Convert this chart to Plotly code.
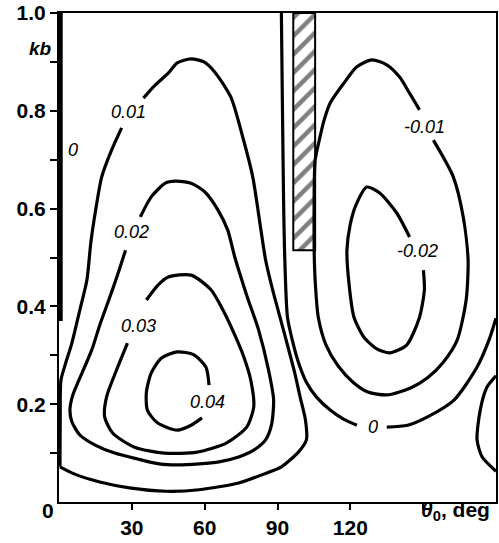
import plotly.graph_objects as go

# ---- contour lines (theta in deg, kb) ----
c001_theta = [0.4, 6.5, 16.8, 29.0, 44.2, 57.7, 74.0, 84.3, 91.6, 98.6, 101.9, 101.5, 99.4, 97.0, 94.1,
              90.8, 88.0, 85.1, 83.0, 79.8, 75.7, 70.8, 64.2, 59.7, 54.4, 48.7, 45.0, 39.3, 34.8, None,
              25.8, 21.7, 17.6, 15.1, 13.1, 11.5, 8.6, 5.3, 2.5, 0.8, 0.5, 0.4]
c001_kb = [0.072, 0.057, 0.041, 0.029, 0.022, 0.025, 0.039, 0.057, 0.072, 0.102, 0.127, 0.168, 0.213, 0.266, 0.321,
           0.382, 0.434, 0.495, 0.562, 0.665, 0.746, 0.828, 0.879, 0.900, 0.906, 0.898, 0.877, 0.851, 0.826, None,
           0.765, 0.720, 0.665, 0.597, 0.530, 0.454, 0.393, 0.325, 0.280, 0.249, 0.168, 0.072]

c002_theta = [33.5, 38.0, 43.8, 47.9, 54.4, 60.1, 65.5, 69.5, 72.4, 77.3, 82.2, 86.3, 88.4, 87.5, 85.1, 80.2,
              74.0, 65.9, 57.7, 48.7, 41.3, 32.3, 22.9, 14.7, 8.6, 5.3, 4.5, 5.7, 8.2, 13.5, 16.8, 20.5, 24.1, 27.4]
c002_kb = [0.583, 0.624, 0.652, 0.656, 0.652, 0.634, 0.597, 0.556, 0.501, 0.423, 0.352, 0.270, 0.209, 0.157, 0.127, 0.106,
           0.092, 0.082, 0.078, 0.076, 0.078, 0.088, 0.100, 0.117, 0.137, 0.164, 0.188, 0.219, 0.249, 0.311, 0.362, 0.413, 0.464, 0.515]

c003_theta = [36.0, 40.5, 45.0, 54.4, 62.6, 67.9, 72.8, 76.1, 79.0, 80.2, 77.3, 69.1, 56.9, 43.4, 31.1, 22.1,
              18.8, 19.6, 23.7, 28.2]
c003_kb = [0.413, 0.442, 0.460, 0.464, 0.434, 0.389, 0.337, 0.297, 0.249, 0.194, 0.153, 0.121, 0.102, 0.100, 0.112, 0.141,
           0.174, 0.215, 0.270, 0.325]

c004_theta = [61.8, 60.5, 55.6, 48.7, 42.1, 38.0, 36.0, 36.4, 40.5, 48.7, 54.4, 58.9]
c004_kb = [0.239, 0.276, 0.301, 0.307, 0.294, 0.264, 0.225, 0.188, 0.162, 0.147, 0.157, 0.172]

c0_mid_theta = [91.6, 92.0, 92.5, 92.9, 94.1, 96.1, 98.6, 101.9, 106.0, 111.7, 117.0, 122.7, None,
                135.0, 143.6, 151.8, 162.8, 172.2, 177.1, 180.0]
c0_mid_kb = [1.0, 0.822, 0.618, 0.515, 0.378, 0.331, 0.286, 0.245, 0.215, 0.188, 0.170, 0.157, None,
             0.153, 0.157, 0.174, 0.209, 0.276, 0.331, 0.376]

c0_left_theta = [0.5, 0.5]
c0_left_kb = [1.0, 0.37]

cm001_theta = [154.2, 162.4, 166.5, 168.5, 167.7, 164.0, 158.3, 151.8, 144.8, 135.0, 127.2, 121.1, 115.0, 110.0,
               106.8, 105.5, 105.1, 105.1, 105.5, 107.2, 109.2, 111.7, 117.4, 122.7, 128.9, 135.0, 140.3, 144.4, 148.5]
cm001_kb = [0.740, 0.665, 0.583, 0.495, 0.413, 0.331, 0.286, 0.254, 0.233, 0.219, 0.225, 0.245, 0.278, 0.321,
            0.378, 0.454, 0.515, 0.632, 0.699, 0.740, 0.781, 0.816, 0.857, 0.890, 0.904, 0.894, 0.869, 0.836, 0.802]

cm002_theta = [150.1, 150.5, 148.5, 143.2, 136.2, 130.9, 125.6, 121.5, 119.5, 118.6, 119.9, 122.3, 126.8, 132.1,
               139.1, 144.4]
cm002_kb = [0.474, 0.434, 0.378, 0.321, 0.305, 0.313, 0.337, 0.378, 0.444, 0.515, 0.566, 0.607, 0.644, 0.632,
            0.591, 0.542]

c_right_theta = [180.0, 176.3, 173.5, 172.2, 174.3, 180.0]
c_right_kb = [0.258, 0.235, 0.188, 0.127, 0.092, 0.063]

# hatched region
rect_theta = [96.5, 105.5, 105.5, 96.5, 96.5]
rect_kb = [1.0, 1.0, 0.515, 0.515, 1.0]

# contour labels
label_text = ["0.01", "0.02", "0.03", "0.04", "-0.01", "-0.02", "0", "0"]
label_theta = [28.6, 29.9, 32.7, 61.0, 150.5, 147.7, 129.3, 5.7]
label_kb = [0.798, 0.552, 0.360, 0.204, 0.767, 0.513, 0.153, 0.72]

x_tickvals = [30, 60, 90, 120]
x_ticktext = ["30", "60", "90", "120"]
x_minor_tickvals = [150]
y_tickvals = [0.2, 0.4, 0.6, 0.8, 1.0]
y_ticktext = ["0.2", "0.4", "0.6", "0.8", "1.0"]
y_minor_tickvals = [0.1, 0.3, 0.5, 0.7, 0.9]

fig = go.Figure()

fig.add_trace(go.Scatter(x=rect_theta, y=rect_kb, mode="lines", fill="toself",
                         fillcolor="white",
                         fillpattern=dict(shape="/", fgcolor="black", bgcolor="white", size=13, solidity=0.35),
                         line=dict(color="black", width=2), hoverinfo="skip"))

lines = [(c001_theta, c001_kb), (c002_theta, c002_kb), (c003_theta, c003_kb), (c004_theta, c004_kb),
         (c0_mid_theta, c0_mid_kb), (cm001_theta, cm001_kb), (cm002_theta, cm002_kb),
         (c_right_theta, c_right_kb)]
for xs, ys in lines:
    fig.add_trace(go.Scatter(x=xs, y=ys, mode="lines", connectgaps=False,
                             line=dict(color="black", width=3.2, shape="spline", smoothing=0.7),
                             hoverinfo="skip"))
fig.add_trace(go.Scatter(x=c0_left_theta, y=c0_left_kb, mode="lines",
                         line=dict(color="black", width=5), hoverinfo="skip"))

for t, x, y in zip(label_text, label_theta, label_kb):
    fig.add_annotation(x=x, y=y, text="<i>" + t + "</i>", showarrow=False,
                       font=dict(family="Liberation Sans", size=18, color="black"),
                       xanchor="center", yanchor="middle")

# axis-side texts (paper coordinates)
fig.add_annotation(xref="paper", yref="paper", x=-0.073, y=0.952, text="<b><i>kb</i></b>",
                   showarrow=False, font=dict(family="Liberation Sans", size=19, color="black"))
fig.add_annotation(xref="paper", yref="paper", x=-0.043, y=-0.045, text="<b>0</b>",
                   showarrow=False, font=dict(family="Liberation Sans", size=21, color="black"))
fig.add_annotation(xref="paper", yref="paper", x=0.823, y=-0.049,
                   text="<b><i>θ</i><sub>0</sub>, deg</b>", showarrow=False, xanchor="left",
                   font=dict(family="Liberation Sans", size=21, color="black"))

fig.update_xaxes(range=[0, 180], showgrid=False, zeroline=False, showline=True, linecolor="black",
                 linewidth=2, mirror=True, ticks="outside", ticklen=6, tickwidth=2, tickcolor="black",
                 tickvals=x_tickvals, ticktext=x_ticktext,
                 minor=dict(tickvals=x_minor_tickvals, ticks="outside", ticklen=6, tickwidth=2,
                            tickcolor="black"),
                 tickfont=dict(family="Liberation Sans", size=21, color="black", weight="bold"))
fig.update_yaxes(range=[0, 1.0], showgrid=False, zeroline=False, showline=True, linecolor="black",
                 linewidth=2, mirror=True, ticks="outside", ticklen=7, tickwidth=2, tickcolor="black",
                 tickvals=y_tickvals, ticktext=y_ticktext,
                 minor=dict(tickvals=y_minor_tickvals, ticks="outside", ticklen=7, tickwidth=2,
                            tickcolor="black"),
                 tickfont=dict(family="Liberation Sans", size=21, color="black", weight="bold"))

fig.update_layout(width=499, height=543, margin=dict(l=59, r=1, t=13, b=41),
                  plot_bgcolor="white", paper_bgcolor="white", showlegend=False)

fig.write_html("out.html")
